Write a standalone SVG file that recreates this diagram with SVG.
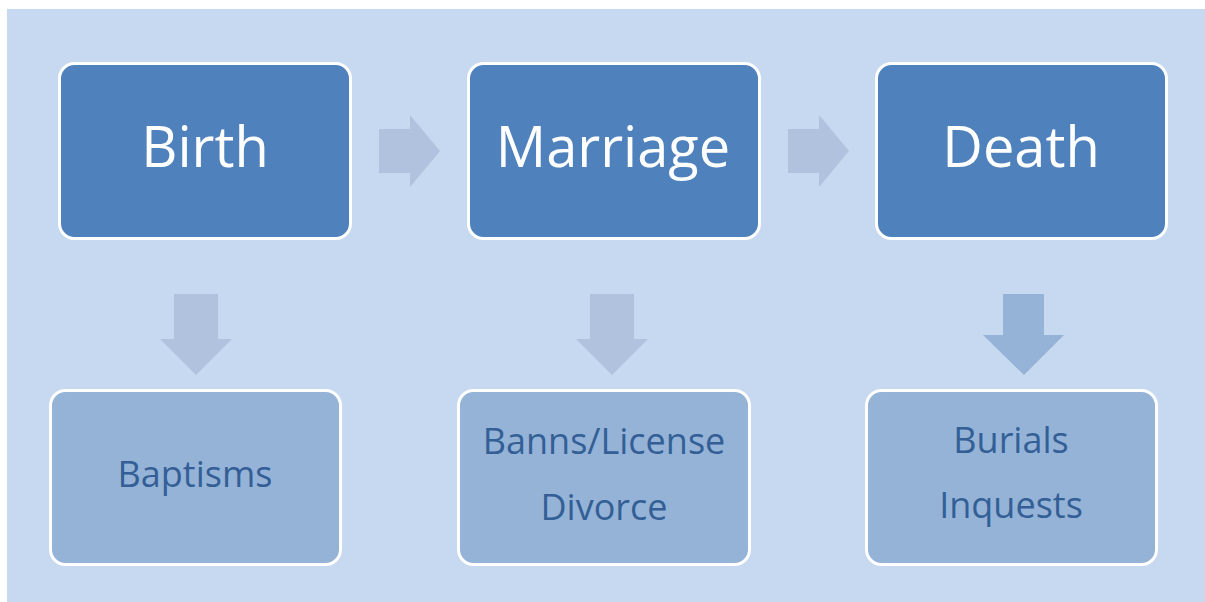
<svg xmlns="http://www.w3.org/2000/svg" width="1205" height="602" viewBox="0 0 1205 602">
<style>
.top rect{fill:#4F81BD;stroke:#FFFFFF;stroke-width:3}
.bot rect{fill:#95B3D7;stroke:#FFFFFF;stroke-width:3}
.top text{font-family:"Open Sans","Noto Sans",sans-serif;font-size:56px;fill:#FFFFFF;text-anchor:middle}
.bot text{font-family:"Open Sans","Noto Sans",sans-serif;font-size:36px;fill:#335F96;text-anchor:middle}
.arr{fill:#B0C2DD}
.arr2{fill:#95B3D7}
</style>
<rect x="7" y="9" width="1198" height="593" fill="#C6D9F1"/>
<g id="connectors">
<polygon class="arr" points="379,129 410,129 410,115 440,151 410,187 410,173 379,173"/>
<polygon class="arr" points="788,129 819,129 819,115 849,151 819,187 819,173 788,173"/>
<polygon class="arr" points="174,294 218,294 218,339 232,339 196,375 160,339 174,339"/>
<polygon class="arr" points="590,294 634,294 634,339 648,339 612,375 576,339 590,339"/>
<polygon class="arr2" points="1003,294 1044,294 1044,335 1064,335 1024,375 983,335 1003,335"/>
</g>
<g id="birth" class="top"><rect x="59.5" y="63.5" width="291" height="175" rx="15"/><text x="205" y="167">Birth</text></g>
<g id="marriage" class="top"><rect x="468.5" y="63.5" width="291" height="175" rx="15"/><text x="613" y="167">Marriage</text></g>
<g id="death" class="top"><rect x="876.5" y="63.5" width="290" height="175" rx="15"/><text x="1021" y="167">Death</text></g>
<g id="baptisms" class="bot"><rect x="50.5" y="390.5" width="290" height="174" rx="15"/><text x="195" y="487">Baptisms</text></g>
<g id="banns" class="bot"><rect x="458.5" y="390.5" width="291" height="174" rx="15"/><text x="604" y="454">Banns/License</text><text x="604" y="520">Divorce</text></g>
<g id="burials" class="bot"><rect x="866.5" y="390.5" width="290" height="174" rx="15"/><text x="1011" y="453">Burials</text><text x="1011" y="518">Inquests</text></g>
</svg>
